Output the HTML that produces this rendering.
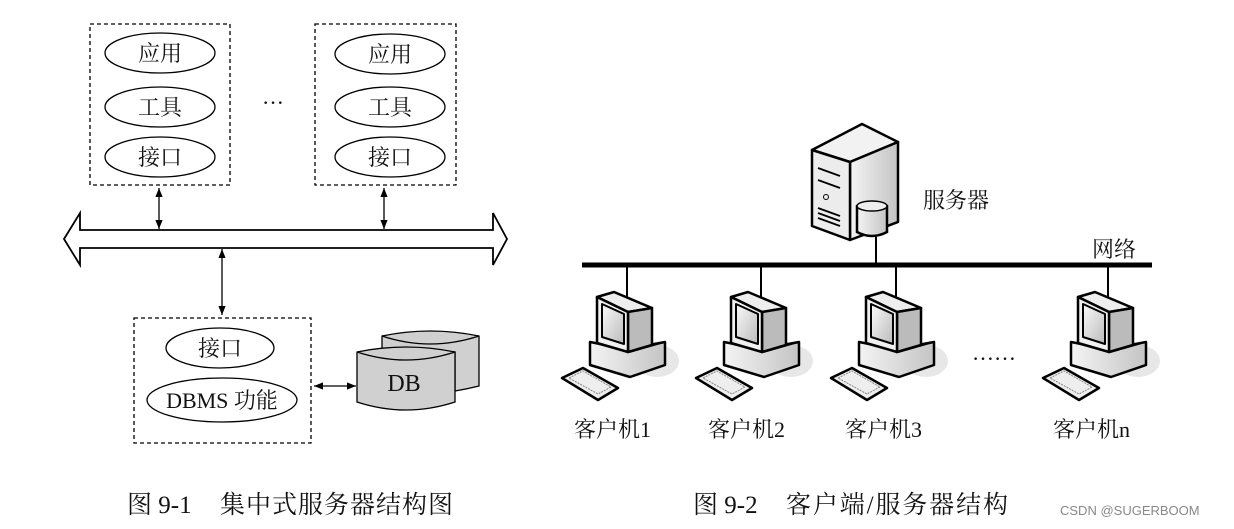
<!DOCTYPE html>
<html><head><meta charset="utf-8"><style>
body{margin:0;background:#fff;width:1234px;height:524px;overflow:hidden}
svg text{font-family:"Liberation Serif","Noto Serif CJK SC",serif;fill:#111}
</style></head><body>
<svg width="1234" height="524" viewBox="0 0 1234 524">
<defs>
<marker id="ah" viewBox="0 0 10 10" refX="10" refY="5" markerWidth="7" markerHeight="9" orient="auto-start-reverse"><path d="M0,1 L10,5 L0,9 Z" fill="#000"/></marker>
<linearGradient id="gs" x1="0" x2="1"><stop offset="0" stop-color="#f4f4f4"/><stop offset="1" stop-color="#c4c4c4"/></linearGradient>
<linearGradient id="gm" x1="0" x2="1" y1="0" y2="1"><stop offset="0" stop-color="#fafafa"/><stop offset="1" stop-color="#bbb"/></linearGradient>
<g id="pc" stroke="#000" stroke-width="2.5" stroke-linejoin="round">
<ellipse cx="30" cy="64" rx="22" ry="16" fill="#ddd" stroke="none" opacity="0.7"/>
<path d="M-37,45 L0,52 L38,45 L38,68 L3,80 L-37,68Z" fill="url(#gs)"/>
<path d="M-37,45 L3,55 L38,45" fill="none" stroke-width="1.5"/>
<path d="M-30,0 L-13,-5 L25,11 L1,15Z" fill="#eee"/>
<path d="M1,15 L25,11 L25,48 L1,55Z" fill="#bbb"/>
<path d="M-30,0 L1,15 L1,55 L-30,46Z" fill="#f0f0f0"/>
<path d="M-25,7 L-3,17 L-3,47 L-25,40Z" fill="url(#gm)" stroke-width="2"/>
<path d="M-65,81 L-44,71 L-9,91 L-29,103Z" fill="#eee"/>
<path d="M-58,81 L-44,74 L-16,90 L-29,97Z" fill="none" stroke="#888" stroke-width="1" stroke-dasharray="2,1"/>
</g>
</defs>
<g fill="none" stroke="#000" stroke-width="1.3">
<rect x="90" y="24" width="140" height="161" stroke-dasharray="4,3"/>
<rect x="315" y="24" width="141" height="161" stroke-dasharray="4,3"/>
<rect x="134" y="318" width="177" height="125" stroke-dasharray="4,3"/>
<ellipse cx="160" cy="53" rx="55" ry="20"/><ellipse cx="160" cy="107" rx="55" ry="20"/><ellipse cx="160" cy="157" rx="55" ry="20"/>
<ellipse cx="390" cy="54" rx="55" ry="20"/><ellipse cx="390" cy="107" rx="55" ry="20"/><ellipse cx="390" cy="157" rx="55" ry="20"/>
<ellipse cx="220" cy="348" rx="54" ry="20"/><ellipse cx="222" cy="400" rx="75" ry="22"/>
<path d="M64,239 L80,213 L80,230 L493,230 L493,213 L507,239 L493,265 L493,248 L80,248 L80,265Z" stroke-width="1.8"/>
<line x1="159" y1="188" x2="159" y2="229" marker-start="url(#ah)" marker-end="url(#ah)"/>
<line x1="384" y1="188" x2="384" y2="229" marker-start="url(#ah)" marker-end="url(#ah)"/>
<line x1="222" y1="249" x2="222" y2="315" marker-start="url(#ah)" marker-end="url(#ah)"/>
<line x1="314" y1="386" x2="356" y2="386" marker-start="url(#ah)" marker-end="url(#ah)"/>
</g>
<path d="M382,336 Q430,326 479,336 L479,386 Q467,389 455,391 L455,352 L382,352Z" fill="#d0d0d0" stroke="#000" stroke-width="1.3"/>
<path d="M382,336 Q430,352 479,336" fill="none" stroke="#000" stroke-width="1.3"/>
<path d="M357,352 Q406,342 455,352 L455,402 Q406,418 357,402Z" fill="#d0d0d0" stroke="#000" stroke-width="1.3"/>
<path d="M357,352 Q406,368 455,352" fill="none" stroke="#000" stroke-width="1.3"/>
<g font-size="22" text-anchor="middle">
<text x="160" y="61">应用</text><text x="160" y="115">工具</text><text x="160" y="165">接口</text>
<text x="390" y="62">应用</text><text x="390" y="115">工具</text><text x="390" y="165">接口</text>
<text x="220" y="356">接口</text><text x="222" y="408">DBMS 功能</text>
<text x="404" y="391" font-size="24">DB</text>
<text x="273" y="110">···</text>
</g>
<line x1="582" y1="265" x2="1152" y2="265" stroke="#000" stroke-width="5"/>
<g stroke="#000" stroke-width="2">
<line x1="627" y1="265" x2="627" y2="297"/><line x1="761" y1="265" x2="761" y2="297"/><line x1="896" y1="265" x2="896" y2="297"/><line x1="1108" y1="265" x2="1108" y2="297"/>
<line x1="876" y1="237" x2="876" y2="265"/>
</g>
<g stroke="#000" stroke-width="2.5" stroke-linejoin="round">
<path d="M812,150 L862,124 L898,142 L850,162Z" fill="#f2f2f2"/>
<path d="M850,162 L898,142 L898,222 L850,240Z" fill="url(#gs)"/>
<path d="M812,150 L850,162 L850,240 L812,226Z" fill="#ececec"/>
</g>
<g stroke="#000" stroke-width="1.8"><line x1="818" y1="168" x2="840" y2="176"/><line x1="818" y1="180" x2="840" y2="188"/><line x1="818" y1="208" x2="840" y2="216"/><line x1="818" y1="213" x2="840" y2="221"/><line x1="818" y1="218" x2="840" y2="226"/></g>
<circle cx="826" cy="197" r="2.5" fill="none" stroke="#000"/>
<path d="M857,206 Q872,198 887,206 L887,232 Q872,240 857,232Z" fill="url(#gs)" stroke="#000" stroke-width="2.5"/>
<ellipse cx="872" cy="206" rx="15" ry="5" fill="#eee" stroke="#000" stroke-width="1.5"/>
<use href="#pc" x="627" y="297"/><use href="#pc" x="761" y="297"/><use href="#pc" x="896" y="297"/><use href="#pc" x="1108" y="297"/>
<g font-size="22">
<text x="923" y="208">服务器</text><text x="1092" y="257">网络</text>
<text x="574" y="437">客户机1</text><text x="708" y="437">客户机2</text><text x="845" y="437">客户机3</text><text x="1053" y="437">客户机n</text>
<text x="972" y="360">……</text>
</g>
<g font-size="25">
<text x="127" y="513">图 9-1</text><text x="220" y="513" textLength="233">集中式服务器结构图</text>
<text x="693" y="513">图 9-2</text><text x="786" y="513" textLength="222">客户端/服务器结构</text>
</g>
<text x="1060" y="515" font-size="13" style="font-family:'Liberation Sans',sans-serif;fill:#888">CSDN @SUGERBOOM</text>
</svg>
</body></html>
